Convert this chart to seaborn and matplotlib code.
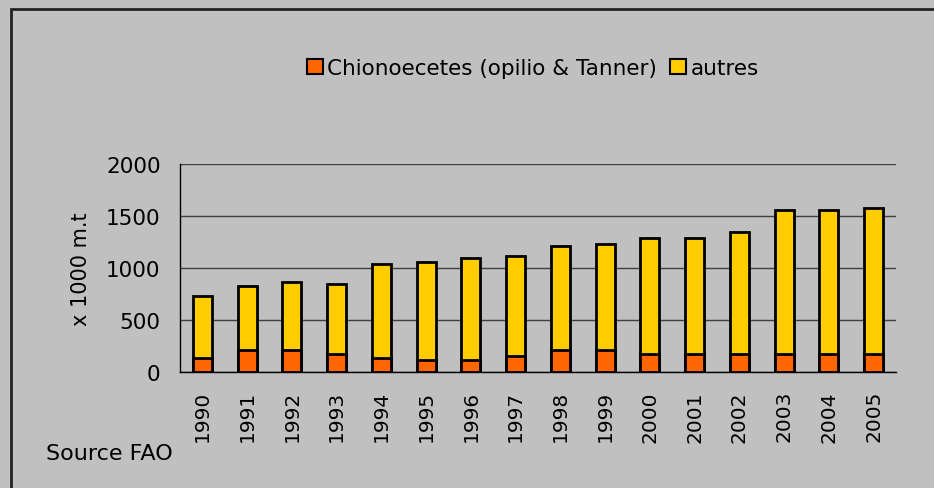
import pandas as pd
import numpy as np
import matplotlib
matplotlib.use("Agg")
import matplotlib.pyplot as plt
import matplotlib.patches as patches
import seaborn as sns

# Data (x 1000 t)
years = [str(y) for y in range(1990, 2006)]
chionoecetes = [135, 214, 214, 176, 135, 118, 118, 157, 214, 214, 176, 176, 176, 176, 176, 176]
autres = [598, 616, 654, 673, 903, 940, 981, 958, 1000, 1020, 1115, 1115, 1173, 1384, 1384, 1404]

ORANGE = "#FF6600"
YELLOW = "#FFCC00"
BG = "#C0C0C0"

df = pd.DataFrame({"year": years, "chion": chionoecetes, "autres": autres})
df["total"] = df["chion"] + df["autres"]

sns.set_style("white")
plt.rcParams["font.family"] = ["DejaVu Sans"]
plt.rcParams["text.color"] = "black"
plt.rcParams["axes.labelcolor"] = "black"
plt.rcParams["xtick.color"] = "black"
plt.rcParams["ytick.color"] = "black"

fig = plt.figure(figsize=(9.34, 4.89), dpi=100)
fig.patch.set_facecolor(BG)
ax = fig.add_axes([180 / 934, 1 - 373 / 489, (896 - 180) / 934, (373 - 165) / 489])
ax.set_facecolor(BG)

# stacked bars: total in yellow, chionoecetes in orange over it
sns.barplot(data=df, x="year", y="total", color=YELLOW, saturation=1, width=0.43,
            edgecolor="black", linewidth=2, ax=ax, zorder=3)
sns.barplot(data=df, x="year", y="chion", color=ORANGE, saturation=1, width=0.43,
            edgecolor="black", linewidth=2, ax=ax, zorder=4)

ax.set_ylim(0, 2000)
ax.set_xlim(-0.5, len(years) - 0.5)
ax.set_yticks([0, 500, 1000, 1500, 2000])
ax.yaxis.grid(True, color="#404040", linewidth=1)
ax.set_axisbelow(True)

for s in ["top", "right"]:
    ax.spines[s].set_visible(False)
for s in ["left", "bottom"]:
    ax.spines[s].set_color("black")
    ax.spines[s].set_linewidth(1)

ax.tick_params(axis="y", labelsize=15.5, length=8, width=1, color="black", pad=6)
ax.tick_params(axis="x", which="major", labelsize=14.5, length=0, rotation=90, pad=13)
ax.set_xticks(np.arange(-0.5, len(years)), minor=True)
ax.tick_params(axis="x", which="minor", length=8, width=1, color="black")

ax.set_xlabel("")
ax.set_ylabel("x 1000 m.t", fontsize=15, labelpad=11)

# legend
handles = [patches.Patch(facecolor=ORANGE, edgecolor="black", linewidth=1.5),
           patches.Patch(facecolor=YELLOW, edgecolor="black", linewidth=1.5)]
fig.legend(handles, ["Chionoecetes (opilio & Tanner)", "autres"], loc="center",
           bbox_to_anchor=(533 / 934, 1 - 69 / 489), ncol=2, frameon=False, fontsize=15.5,
           handlelength=0.75, handleheight=0.75, handletextpad=0.2, columnspacing=0.6)

fig.text(46 / 934, 1 - 454 / 489, "Source FAO", fontsize=16, va="center", ha="left")

# chart border
fig.add_artist(patches.Rectangle((11 / 934, -0.1), 1.0, 1.1 - 10 / 489,
                                 transform=fig.transFigure, fill=False,
                                 edgecolor="#222222", linewidth=2))

fig.savefig("out.png", dpi=100, facecolor=BG)
